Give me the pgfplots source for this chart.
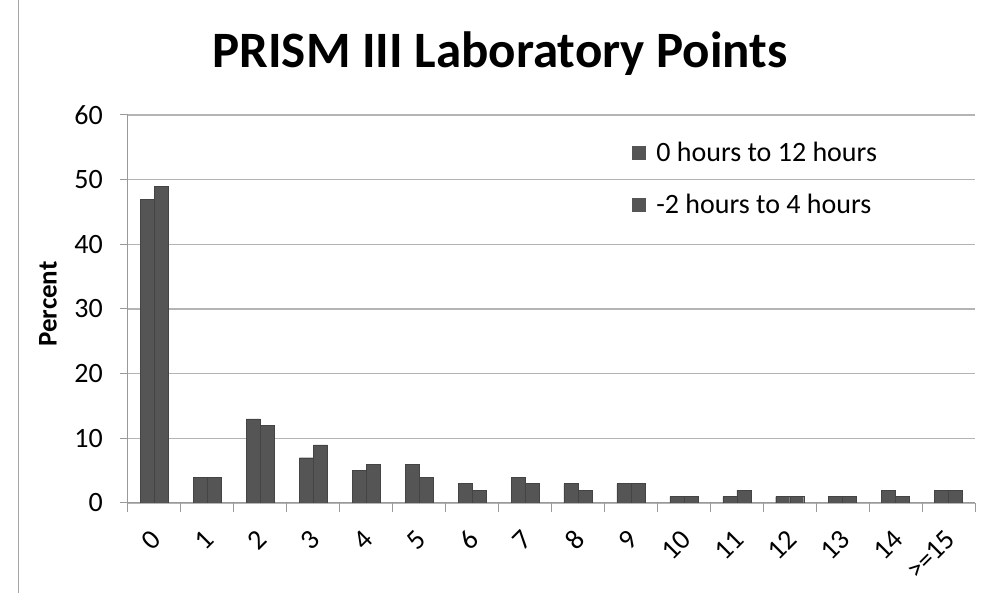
\documentclass[border=0pt]{standalone}
\usepackage{pgfplots}
\pgfplotsset{compat=1.18}
\usepackage{fontspec}
\setmainfont{Carlito}
\definecolor{barc}{HTML}{555555}
\definecolor{gridc}{HTML}{B4B4B4}
\begin{document}
\begin{tikzpicture}
\path[use as bounding box] (0pt,0pt) rectangle (989pt,593pt);
\draw[gray!70, line width=1pt] (18pt,0pt) -- (18pt,593pt);
\node[font=\fontsize{51}{58}\selectfont\bfseries] at (500pt,539pt) {PRISM III Laboratory Points};
\node[font=\fontsize{27}{32}\selectfont\bfseries, rotate=90] at (48pt,289pt) {Percent};
\begin{axis}[
  at={(128pt,90pt)}, anchor=south west,
  scale only axis, width=847pt, height=388pt,
  xmin=-0.5, xmax=15.5, ymin=0, ymax=60,
  ytick={0,10,...,60},
  xtick={0,...,15},
  xticklabels={0,1,2,3,4,5,6,7,8,9,10,11,12,13,14,>=15},
  minor xtick={-0.5,0.5,...,15.5},
  axis x line*=bottom, axis y line*=left,
  axis line style={gray!80, line width=1pt},
  x axis line style={-}, y axis line style={-},
  ymajorgrids, grid style={gridc, line width=1.6pt},
  major x tick style={draw=none},
  minor x tick style={gray!80, line width=1pt},
  major y tick style={gray!80, line width=1pt},
  tick align=outside, major tick length=8pt, minor tick length=9pt,
  /pgf/number format/assume math mode=true,
  tick label style={font=\fontsize{28}{32}\selectfont, inner sep=1pt},
  yticklabel style={xshift=-16pt},
  xticklabel style={xshift=3pt, yshift=-23pt, rotate=45, anchor=east},
  ybar=0pt, bar width=14pt,
  legend style={draw=none, fill=none, at={(0.595,0.935)}, anchor=north west,
    font=\fontsize{28}{32}\selectfont, row sep=27pt, cells={anchor=west},
    inner sep=0pt},
  legend image code/.code={\fill[barc] (0pt,-6.5pt) rectangle (13pt,6.5pt);
    \path[draw=none, fill=none] (0pt,0pt) rectangle (22pt,0.1pt);},
]
\addplot[fill=barc, draw=barc!80!black] coordinates {
(0,47) (1,4) (2,13) (3,7) (4,5) (5,6) (6,3) (7,4) (8,3) (9,3) (10,1) (11,1) (12,1) (13,1) (14,2) (15,2)};
\addplot[fill=barc, draw=barc!80!black] coordinates {
(0,49) (1,4) (2,12) (3,9) (4,6) (5,4) (6,2) (7,3) (8,2) (9,3) (10,1) (11,2) (12,1) (13,1) (14,1) (15,2)};
\legend{0 hours to 12 hours, -2 hours to 4 hours}
\end{axis}
\end{tikzpicture}
\end{document}
